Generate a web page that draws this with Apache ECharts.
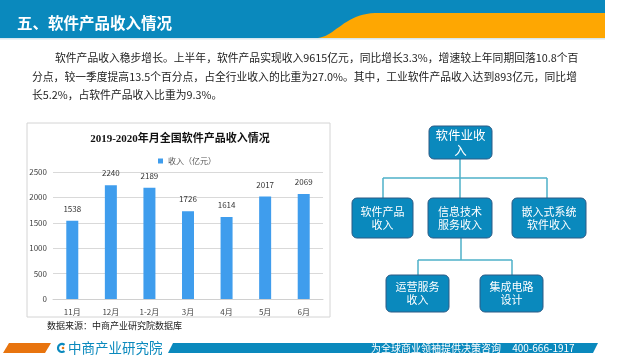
<!DOCTYPE html>
<html><head><meta charset="utf-8">
<script src="https://cdn.jsdelivr.net/npm/echarts@6/dist/echarts.min.js"></script>
<style>html,body{margin:0;padding:0;background:#fff}#c{width:640px;height:360px}</style>
</head><body><div id="c"></div>
<script>
const categories = ['11月', '12月', '1-2月', '3月', '4月', '5月', '6月'];
const revenue = [1538, 2240, 2189, 1726, 1614, 2017, 2069];
const seriesName = '收入（亿元）';
const chartTitle = '2019-2020年月全国软件产品收入情况';
const pageTitle = '五、软件产品收入情况';
const paragraph = [
  '软件产品收入稳步增长。上半年，软件产品实现收入9615亿元，同比增长3.3%，增速较上年同期回落10.8个百',
  '分点，较一季度提高13.5个百分点，占全行业收入的比重为27.0%。其中，工业软件产品收入达到893亿元，同比增',
  '长5.2%，占软件产品收入比重为9.3%。'
];
const source = '数据来源：中商产业研究院数据库';
const orgTop = '软件业收\n入';
const orgMid = ['软件产品\n收入', '信息技术\n服务收入', '嵌入式系统\n软件收入'];
const orgLow = ['运营服务\n收入', '集成电路\n设计'];
const footerSlogan = '为全球商业领袖提供决策咨询     400-666-1917';
const brand = '中商产业研究院';

const BLUE = '#0a89bd', ORANGE = '#fea702', FONT = '"Noto Sans CJK SC", "Microsoft YaHei", sans-serif';
const chart = echarts.init(document.getElementById('c'), null, {renderer: 'canvas'});

function box(x, y, w, h, text, fs, lh) {
  return [
    {type: 'rect', shape: {x, y, width: w, height: h, r: 5}, style: {fill: BLUE, stroke: '#2c5a85', lineWidth: 1}, z: 10},
    {type: 'text', x: x + w / 2, y: y + h / 2, style: {text, fill: '#fff', font: fs + 'px ' + FONT, align: 'center', verticalAlign: 'middle', lineHeight: lh}, z: 11}
  ];
}
function line(x1, y1, x2, y2) {
  return {type: 'line', shape: {x1, y1, x2, y2}, style: {stroke: '#4eb1c9', lineWidth: 1.5}, z: 9};
}
function headerShape() {
  const p0 = [318, 38], c1 = [335, 36], c2 = [345, 14], p3 = [375, 13];
  const pts = [];
  for (let i = 0; i <= 20; i++) {
    const t = i / 20, u = 1 - t;
    pts.push([
      u*u*u*p0[0] + 3*u*u*t*c1[0] + 3*u*t*t*c2[0] + t*t*t*p3[0],
      u*u*u*p0[1] + 3*u*u*t*c1[1] + 3*u*t*t*c2[1] + t*t*t*p3[1]
    ]);
  }
  pts.push([605, 13], [605, 38]);
  return pts;
}

const graphic = [
  {type: 'rect', shape: {x: 0, y: 0, width: 605, height: 38}, style: {fill: BLUE}},
  {type: 'polygon', shape: {points: headerShape()}, style: {fill: ORANGE}},
  {type: 'rect', shape: {x: 0, y: 38, width: 605, height: 1.5}, style: {fill: '#d7e7ef'}},
  {type: 'text', x: 17, y: 23, style: {text: pageTitle, fill: '#fff', font: 'bold 15.5px ' + FONT, verticalAlign: 'middle'}},
  {type: 'text', x: 55, y: 58, style: {text: paragraph[0], fill: '#222', font: '10.8px ' + FONT, verticalAlign: 'middle'}},
  {type: 'text', x: 32, y: 77, style: {text: paragraph[1], fill: '#222', font: '10.8px ' + FONT, verticalAlign: 'middle'}},
  {type: 'text', x: 32, y: 95, style: {text: paragraph[2], fill: '#222', font: '10.8px ' + FONT, verticalAlign: 'middle'}},
  {type: 'rect', shape: {x: 27, y: 123, width: 303, height: 194}, style: {fill: 'none', stroke: '#d4d4d4', lineWidth: 1}, z: 0},
  {type: 'text', x: 180, y: 139, style: {text: chartTitle, fill: '#111', font: 'bold 11px "Liberation Serif", ' + FONT, align: 'center', verticalAlign: 'middle'}},
  {type: 'text', x: 47, y: 326, style: {text: source, fill: '#222', font: '9px ' + FONT, verticalAlign: 'middle'}},
  {type: 'polygon', shape: {points: [[3, 353], [9, 343], [51, 343], [45, 353]]}, style: {fill: '#e8740e'}},
  {type: 'polygon', shape: {points: [[168, 353], [173, 343], [598, 343], [593, 353]]}, style: {fill: BLUE}},
  {type: 'arc', shape: {cx: 62, cy: 348, r: 4, startAngle: 0.9, endAngle: 5.4}, style: {stroke: BLUE, lineWidth: 2.2, fill: 'none'}},
  {type: 'circle', shape: {cx: 63, cy: 348, r: 1.3}, style: {fill: '#e8740e'}},
  {type: 'text', x: 68, y: 348, style: {text: brand, fill: BLUE, font: '13.5px ' + FONT, verticalAlign: 'middle'}},
  {type: 'text', x: 371, y: 348, style: {text: footerSlogan, fill: '#fff', font: '10px ' + FONT, verticalAlign: 'middle'}},
  line(460, 159, 460, 178), line(383, 178, 547, 178),
  line(383, 178, 383, 198), line(460, 178, 460, 198), line(547, 178, 547, 198),
  line(461, 238, 461, 260), line(418, 260, 512, 260),
  line(418, 260, 418, 275), line(512, 260, 512, 275)
];
graphic.push(...box(429, 126, 63, 33, orgTop, 12.5, 15));
graphic.push(...box(352, 198, 61, 40, orgMid[0], 11, 13));
graphic.push(...box(428, 198, 64, 40, orgMid[1], 11, 13));
graphic.push(...box(512, 198, 74, 40, orgMid[2], 11, 13));
graphic.push(...box(386, 275, 63, 37, orgLow[0], 11, 13));
graphic.push(...box(480, 275, 63, 37, orgLow[1], 11, 13));

chart.setOption({
  animation: false,
  textStyle: {fontFamily: FONT},
  legend: {
    data: [seriesName], top: 152, left: 153, itemWidth: 5, itemHeight: 5, icon: 'rect',
    textStyle: {fontSize: 8, color: '#555'}, itemGap: 4
  },
  grid: {left: 53, right: 317, top: 172, bottom: 61, containLabel: false},
  xAxis: {
    type: 'category', data: categories,
    axisLine: {lineStyle: {color: '#d0d0d0'}}, axisTick: {show: false},
    axisLabel: {fontSize: 8, color: '#444', margin: 9}
  },
  yAxis: {
    type: 'value', min: 0, max: 2500, interval: 500,
    axisLine: {show: false}, axisTick: {show: false},
    axisLabel: {fontSize: 8, color: '#444', margin: 6, formatter: v => String(v)},
    splitLine: {lineStyle: {color: '#d9d9d9'}}
  },
  series: [{
    name: seriesName, type: 'bar', data: revenue, barWidth: 12,
    itemStyle: {color: '#3f9ded'},
    label: {show: true, position: 'top', fontSize: 8, color: '#333', distance: 8}
  }],
  graphic
});
</script></body></html>
